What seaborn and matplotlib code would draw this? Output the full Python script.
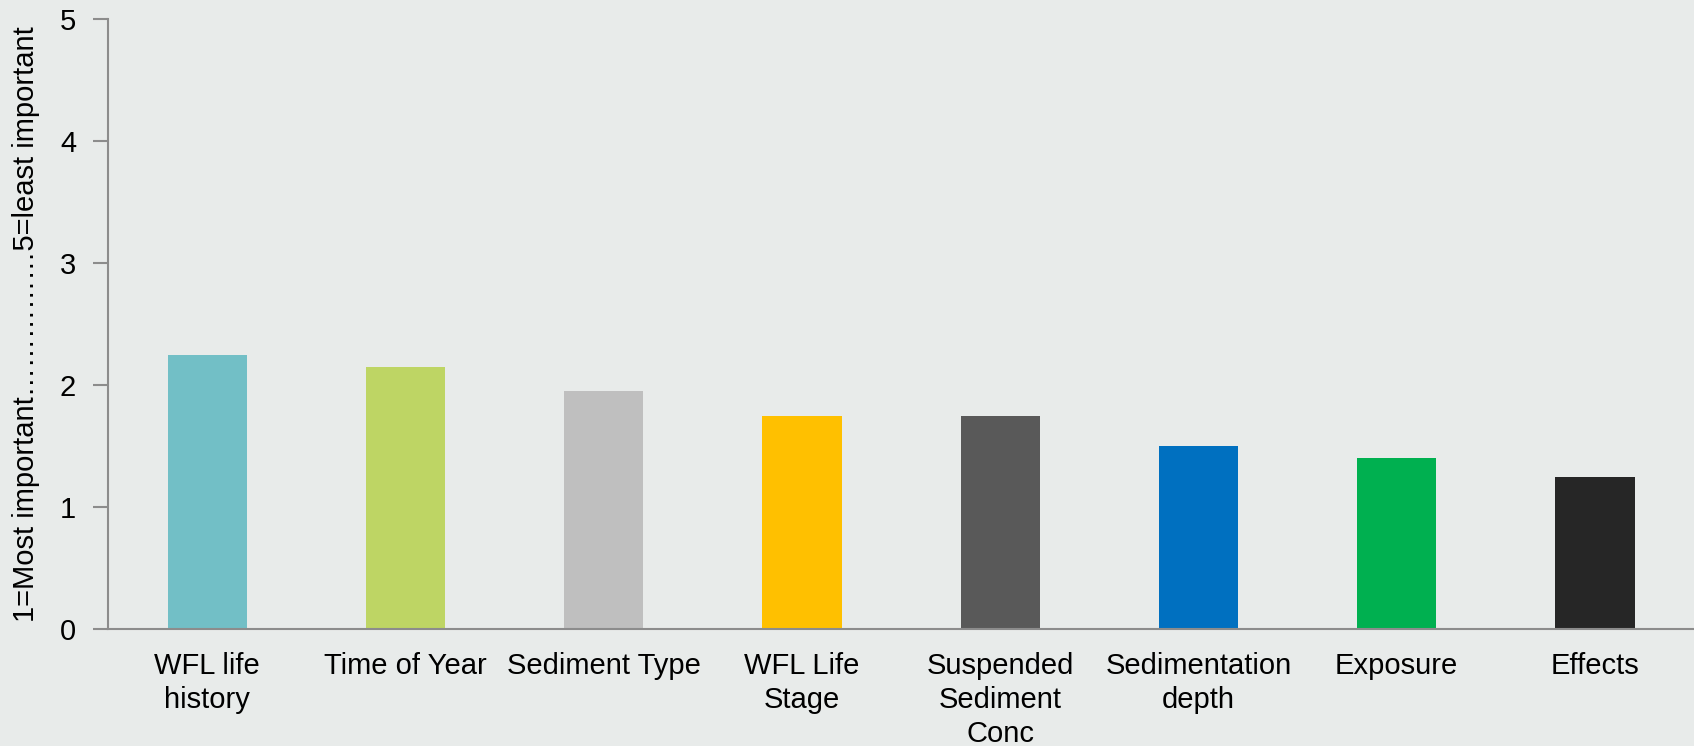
import matplotlib
matplotlib.use("Agg")
import matplotlib.pyplot as plt
import seaborn as sns
import pandas as pd

categories = ["WFL life\nhistory", "Time of Year", "Sediment Type", "WFL Life\nStage",
              "Suspended\nSediment\nConc", "Sedimentation\ndepth", "Exposure", "Effects"]
values = [2.25, 2.15, 1.95, 1.75, 1.75, 1.50, 1.40, 1.25]
colors = ["#72BFC6", "#BED564", "#BFBFBF", "#FFC000", "#595959", "#0070C0", "#00B050", "#262626"]
yticks = [0, 1, 2, 3, 4, 5]
ylabel = "1=Most important\u2026\u2026\u2026\u2026\u20265=least important"

sns.set_theme(style="white")
plt.rcParams['font.family'] = ['Liberation Sans', 'DejaVu Sans']

bg = "#E8EBEA"
fig = plt.figure(figsize=(16.94, 7.46), dpi=100, facecolor=bg)
ax = fig.add_axes([0.0638, 0.157, 0.9362, 0.817])
ax.set_facecolor(bg)

df = pd.DataFrame({"cat": categories, "val": values})
sns.barplot(data=df, x="cat", y="val", hue="cat", palette=colors, width=0.4,
            legend=False, ax=ax, saturation=1, linewidth=0, edgecolor="none")

ax.set_xlim(-0.5, 7.5)
ax.set_ylim(0, 5)
ax.set_yticks(yticks)
ax.set_yticklabels([str(t) for t in yticks], fontsize=21, color="#000000")
ax.tick_params(axis="y", which="major", length=11, width=1.5, color="#8C8C8C", pad=12, left=True)
ax.tick_params(axis="x", length=0, pad=17, labelsize=21, colors="#000000")
for lab in ax.get_xticklabels():
    lab.set_horizontalalignment("center")
    lab.set_multialignment("center")
    lab.set_linespacing(1.27)

ax.set_xlabel("")
ax.set_ylabel(ylabel, fontsize=21, color="#000000", labelpad=14)

for s in ["top", "right"]:
    ax.spines[s].set_visible(False)
for s in ["left", "bottom"]:
    ax.spines[s].set_color("#8C8C8C")
    ax.spines[s].set_linewidth(1.5)

fig.savefig("out.png", dpi=100, facecolor=bg)
